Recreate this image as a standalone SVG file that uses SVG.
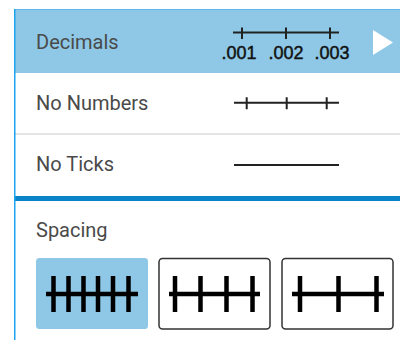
<svg xmlns="http://www.w3.org/2000/svg" width="400" height="340" viewBox="0 0 400 340">
  <style>
    .lbl { font-family: Roboto, "Liberation Sans", sans-serif; font-size: 20px; fill: #4a4a4a; }
    .num { font-family: "Liberation Sans", Arial, sans-serif; font-size: 18px; fill: #111; stroke: #111; stroke-width: 0.45; text-anchor: middle; }
    .nl { stroke: #222; stroke-width: 2; fill: none; }
    .ic { stroke: #000; stroke-width: 4.5; fill: none; }
    .btn { fill: #fff; stroke: #333; stroke-width: 1.5; }
  </style>
  <rect x="0" y="0" width="400" height="340" fill="#fff"/>
  <g id="row-decimals">
    <rect x="15" y="9.5" width="385" height="63.5" fill="#8ec8e6"/>
    <line x1="15" y1="9.5" x2="400" y2="9.5" stroke="#5cb8ee" stroke-width="1"/>
    <text class="lbl" x="36" y="49">Decimals</text>
    <path class="nl" d="M233 32.5H339M242 27.5V39M286 27.5V39M330 27.5V39"/>
    <text class="num" x="239" y="59">.001</text>
    <text class="num" x="286" y="59">.002</text>
    <text class="num" x="332" y="59">.003</text>
    <polygon points="373,30 393,42.5 373,55" fill="#fff"/>
  </g>
  <g id="row-no-numbers">
    <text class="lbl" x="36" y="110">No Numbers</text>
    <path class="nl" d="M234 102.7H339M246.7 97.3V109.3M286.7 97.3V109.3M326.7 97.3V109.3"/>
  </g>
  <line x1="15" y1="134" x2="400" y2="134" stroke="#dddddd" stroke-width="1.5"/>
  <g id="row-no-ticks">
    <text class="lbl" x="36" y="171">No Ticks</text>
    <line class="nl" x1="234" y1="165" x2="339" y2="165" stroke-width="2.5"/>
  </g>
  <rect x="15" y="196" width="385" height="5" fill="#0a84c8"/>
  <g id="spacing">
    <text class="lbl" x="36" y="237">Spacing</text>
  </g>
  <g id="btn-dense">
    <rect x="36" y="258" width="112" height="71" rx="3.5" fill="#8ec8e6"/>
    <path class="ic" d="M46 294H138M53.5 276V312M68.5 276V312M83.5 276V312M98 276V312M113 276V312M128.5 276V312"/>
  </g>
  <g id="btn-medium">
    <rect class="btn" x="159" y="258.5" width="111" height="70.5" rx="3.5"/>
    <path class="ic" d="M169 294H260M175 276V312M200.5 276V312M226.5 276V312M252.5 276V312"/>
  </g>
  <g id="btn-wide">
    <rect class="btn" x="282" y="258.5" width="111" height="70.5" rx="3.5"/>
    <path class="ic" d="M292 294H384M300 276V312M338.5 276V312M376.5 276V312"/>
  </g>
  <line x1="14.75" y1="9" x2="14.75" y2="340" stroke="#1ea3ee" stroke-width="1.5"/>
</svg>
